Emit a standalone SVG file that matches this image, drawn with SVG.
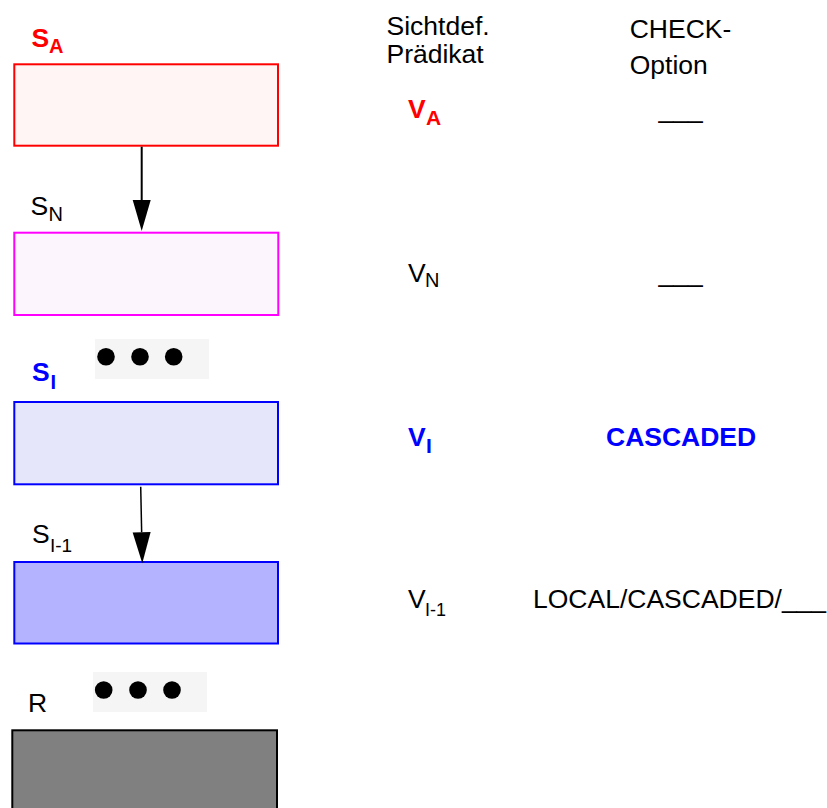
<svg xmlns="http://www.w3.org/2000/svg" width="827" height="808" viewBox="0 0 827 808">
<style>
  text { font-family: "Liberation Sans", Arial, sans-serif; font-size: 26.5px; fill: #000; }
  .b { font-weight: bold; }
  .red { fill: #ff0000; }
  .blue { fill: #0000ff; }
  .box { stroke-width: 2; }
  .dotbg { fill: #f5f5f5; }
  .dot { fill: #000; }
  .conn { stroke: #000; fill: none; }
</style>
<defs>
  <marker id="ah" markerUnits="userSpaceOnUse" markerWidth="32" markerHeight="20" refX="0" refY="9" orient="auto" viewBox="0 0 32 18" overflow="visible">
    <path d="M0,0 L31,9 L0,18 Z" fill="#000"/>
  </marker>
</defs>

<rect width="827" height="808" fill="#fff"/>

<g id="node-SA">
  <rect class="box" x="14.3" y="64.3" width="263.7" height="81.4" fill="#fff5f5" stroke="#ff0000"/>
  <text class="b red" x="31.5" y="46.7">S<tspan x="49" y="53.3" font-size="20">A</tspan></text>
</g>
<g id="node-SN">
  <rect class="box" x="14.3" y="232.7" width="264" height="82.3" fill="#fdf5fd" stroke="#ff00ff"/>
  <text x="30.5" y="215">S<tspan x="48.5" y="220.7" font-size="20">N</tspan></text>
</g>
<g id="dots-1">
  <rect class="dotbg" x="95" y="339" width="114" height="40"/>
  <circle class="dot" cx="106" cy="356.7" r="8.8"/>
  <circle class="dot" cx="140" cy="356.7" r="8.8"/>
  <circle class="dot" cx="173.7" cy="356.7" r="8.8"/>
</g>
<g id="node-SI">
  <rect class="box" x="14.3" y="402" width="263.7" height="82.3" fill="#e6e6fa" stroke="#0000ff"/>
  <text class="b blue" x="32" y="381" font-size="23">S<tspan x="50.4" y="389.3" font-size="20">I</tspan></text>
</g>
<g id="node-SI-1">
  <rect class="box" x="14.3" y="562" width="263.7" height="81.5" fill="#b3b3ff" stroke="#0000ff"/>
  <text x="32" y="543.3">S<tspan x="50" y="551.7" font-size="19">I-1</tspan></text>
</g>
<g id="dots-2">
  <rect class="dotbg" x="93" y="672" width="114" height="40"/>
  <circle class="dot" cx="103.7" cy="690" r="8.8"/>
  <circle class="dot" cx="138" cy="690" r="8.8"/>
  <circle class="dot" cx="172" cy="690" r="8.8"/>
</g>
<g id="node-R">
  <rect x="12.3" y="730.3" width="264.7" height="90" fill="#808080" stroke="#000" stroke-width="2"/>
  <text x="28" y="711.5">R</text>
</g>

<g id="connectors">
  <line class="conn" x1="141.7" y1="146.7" x2="141.7" y2="200" stroke-width="2" marker-end="url(#ah)"/>
  <line class="conn" x1="140.7" y1="486.7" x2="141.65" y2="532.3" stroke-width="1.5" marker-end="url(#ah)"/>
</g>

<g id="table">
  <text x="386.5" y="35">Sichtdef.</text>
  <text x="386.5" y="63.3">Prädikat</text>
  <text x="629.7" y="38.3">CHECK-</text>
  <text x="629.7" y="74">Option</text>

  <text class="b red" x="408" y="118.3">V<tspan x="426" y="125" font-size="21">A</tspan></text>
  <text x="658.5" y="118">___</text>

  <text x="408" y="281.7">V<tspan x="425" y="287.3" font-size="20">N</tspan></text>
  <text x="658.5" y="281.5">___</text>

  <text class="b blue" x="408" y="446" font-size="25">V<tspan x="426" y="453.3" font-size="21">I</tspan></text>
  <text class="b blue" x="606" y="446">CASCADED</text>

  <text x="408" y="608.3">V<tspan x="425" y="616" font-size="18">I-1</tspan></text>
  <text x="533" y="608" font-size="27">LOCAL/CASCADED/___</text>
</g>
</svg>
